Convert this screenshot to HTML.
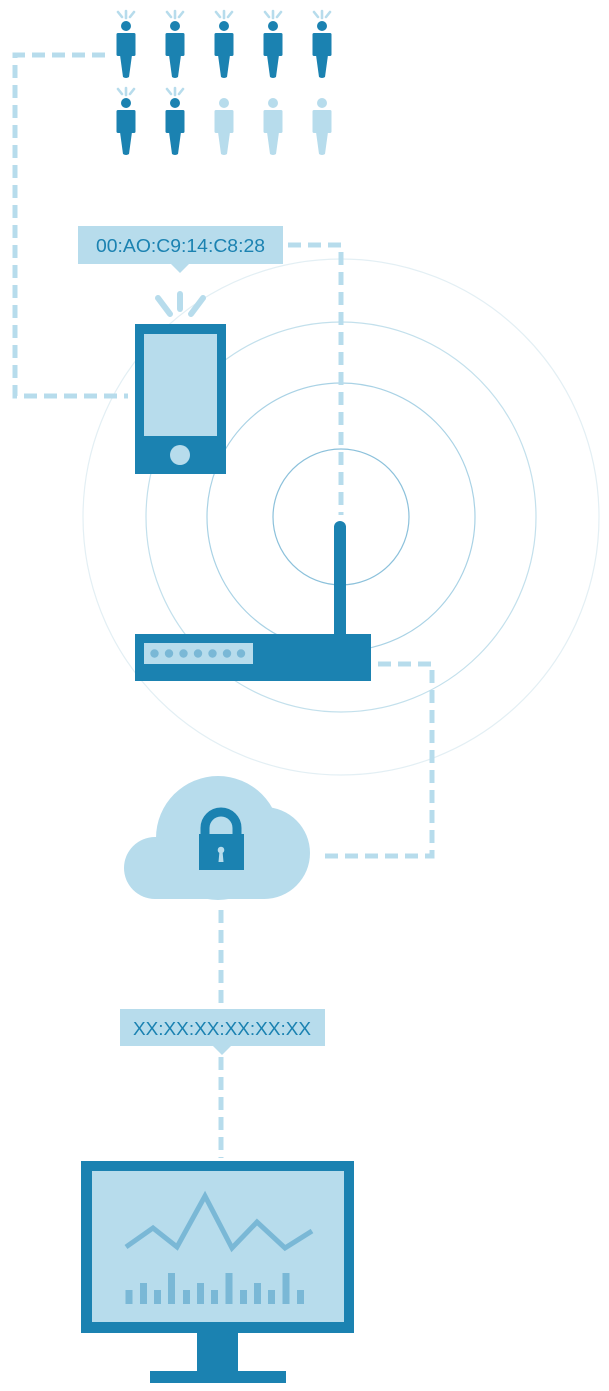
<!DOCTYPE html>
<html><head><meta charset="utf-8"><style>
html,body{margin:0;padding:0;background:#fff;}
svg{display:block;}
</style></head><body>
<svg width="609" height="1391" viewBox="0 0 609 1391" xmlns="http://www.w3.org/2000/svg">
<defs>
<g id="pd">
 <circle cx="0" cy="0" r="5" fill="#1b82b1"/>
 <rect x="-9.5" y="7" width="19" height="23" rx="1.5" fill="#1b82b1"/>
 <path d="M-6 29 L6 29 L3 51 Q0 53 -3 51 Z" fill="#1b82b1"/>
 <g stroke="#b7dcec" stroke-width="2.6" stroke-linecap="round">
  <line x1="0" y1="-8" x2="0" y2="-15"/>
  <line x1="-4" y1="-9" x2="-8" y2="-14"/>
  <line x1="4" y1="-9" x2="8" y2="-14"/>
 </g>
</g>
<g id="pl">
 <circle cx="0" cy="0" r="5" fill="#b7dcec"/>
 <rect x="-9.5" y="7" width="19" height="23" rx="1.5" fill="#b7dcec"/>
 <path d="M-6 29 L6 29 L3 51 Q0 53 -3 51 Z" fill="#b7dcec"/>
</g>
</defs>

<g fill="none">
 <circle cx="341" cy="517" r="258" stroke="#e3eff4" stroke-width="1.2"/>
 <circle cx="341" cy="517" r="195" stroke="#c3e0ec" stroke-width="1.2"/>
 <circle cx="341" cy="517" r="134" stroke="#a9d2e5" stroke-width="1.2"/>
 <circle cx="341" cy="517" r="68" stroke="#8cc1db" stroke-width="1.2"/>
</g>

<g fill="none" stroke="#b7dcec" stroke-width="5" stroke-dasharray="13 7">
 <polyline points="105,55 15,55 15,396 128,396"/>
 <polyline points="288,245 341,245 341,515"/>
 <polyline points="378,664 432,664 432,856 322,856"/>
 <line x1="221" y1="910" x2="221" y2="1008"/>
 <line x1="221" y1="1057" x2="221" y2="1158"/>
</g>

<use href="#pd" x="126" y="26"/><use href="#pd" x="175" y="26"/><use href="#pd" x="224" y="26"/><use href="#pd" x="273" y="26"/><use href="#pd" x="322" y="26"/>
<use href="#pd" x="126" y="103"/><use href="#pd" x="175" y="103"/><use href="#pl" x="224" y="103"/><use href="#pl" x="273" y="103"/><use href="#pl" x="322" y="103"/>

<rect x="78" y="226" width="205" height="38" fill="#b7dcec"/>
<polygon points="171,264 189,264 180,273" fill="#b7dcec"/>
<text x="96" y="252" textLength="169" lengthAdjust="spacingAndGlyphs" font-family="Liberation Sans, sans-serif" font-size="18" fill="#1b82b1">00:AO:C9:14:C8:28</text>

<g stroke="#b7dcec" stroke-width="6" stroke-linecap="round">
 <line x1="180" y1="294" x2="180" y2="309"/>
 <line x1="158" y1="298" x2="170" y2="314"/>
 <line x1="203" y1="298" x2="191" y2="314"/>
</g>
<rect x="135" y="324" width="91" height="150" fill="#1b82b1"/>
<rect x="144" y="334" width="73" height="102" fill="#b7dcec"/>
<circle cx="180" cy="455" r="10" fill="#b7dcec"/>

<line x1="340" y1="527" x2="340" y2="636" stroke="#1b82b1" stroke-width="12" stroke-linecap="round"/>
<rect x="135" y="634" width="236" height="47" fill="#1b82b1"/>
<rect x="144" y="643" width="109" height="21" fill="#b7dcec"/>
<g fill="#7ab8d6">
 <circle cx="154.5" cy="653.5" r="4.2"/><circle cx="169" cy="653.5" r="4.2"/><circle cx="183.5" cy="653.5" r="4.2"/><circle cx="198" cy="653.5" r="4.2"/><circle cx="212.5" cy="653.5" r="4.2"/><circle cx="227" cy="653.5" r="4.2"/><circle cx="241" cy="653.5" r="4.2"/>
</g>

<g fill="#b7dcec">
 <circle cx="218" cy="838" r="62"/>
 <circle cx="264" cy="853" r="46"/>
 <circle cx="155" cy="868" r="31"/>
 <rect x="155" y="840" width="110" height="59"/>
</g>
<path d="M205 834 V828 A16 16 0 0 1 237 828 V834" fill="none" stroke="#1b82b1" stroke-width="9"/>
<rect x="199" y="834" width="45" height="36" fill="#1b82b1"/>
<circle cx="221" cy="850" r="3.3" fill="#b7dcec"/>
<polygon points="219.5,851 222.5,851 223.5,862 218.5,862" fill="#b7dcec"/>

<rect x="120" y="1009" width="205" height="37" fill="#b7dcec"/>
<polygon points="213,1046 231,1046 222,1055" fill="#b7dcec"/>
<text x="133" y="1035" textLength="178" lengthAdjust="spacingAndGlyphs" font-family="Liberation Sans, sans-serif" font-size="18" fill="#1b82b1">XX:XX:XX:XX:XX:XX</text>

<rect x="81" y="1161" width="273" height="172" fill="#1b82b1"/>
<rect x="92" y="1171" width="252" height="151" fill="#b7dcec"/>
<rect x="197" y="1332" width="41" height="40" fill="#1b82b1"/>
<rect x="150" y="1371" width="136" height="12" fill="#1b82b1"/>
<polyline points="126,1247 153,1228 177,1247 205,1196 232,1248 257,1222 285,1248 312,1231" fill="none" stroke="#7ab8d6" stroke-width="5"/>
<g fill="#7ab8d6">
 <rect x="125.5" y="1290" width="7" height="14"/>
 <rect x="140" y="1283" width="7" height="21"/>
 <rect x="154" y="1290" width="7" height="14"/>
 <rect x="168" y="1273" width="7" height="31"/>
 <rect x="183" y="1290" width="7" height="14"/>
 <rect x="197" y="1283" width="7" height="21"/>
 <rect x="211" y="1290" width="7" height="14"/>
 <rect x="225.5" y="1273" width="7" height="31"/>
 <rect x="240" y="1290" width="7" height="14"/>
 <rect x="254" y="1283" width="7" height="21"/>
 <rect x="268" y="1290" width="7" height="14"/>
 <rect x="282.5" y="1273" width="7" height="31"/>
 <rect x="297" y="1290" width="7" height="14"/>
</g>
</svg>
</body></html>
